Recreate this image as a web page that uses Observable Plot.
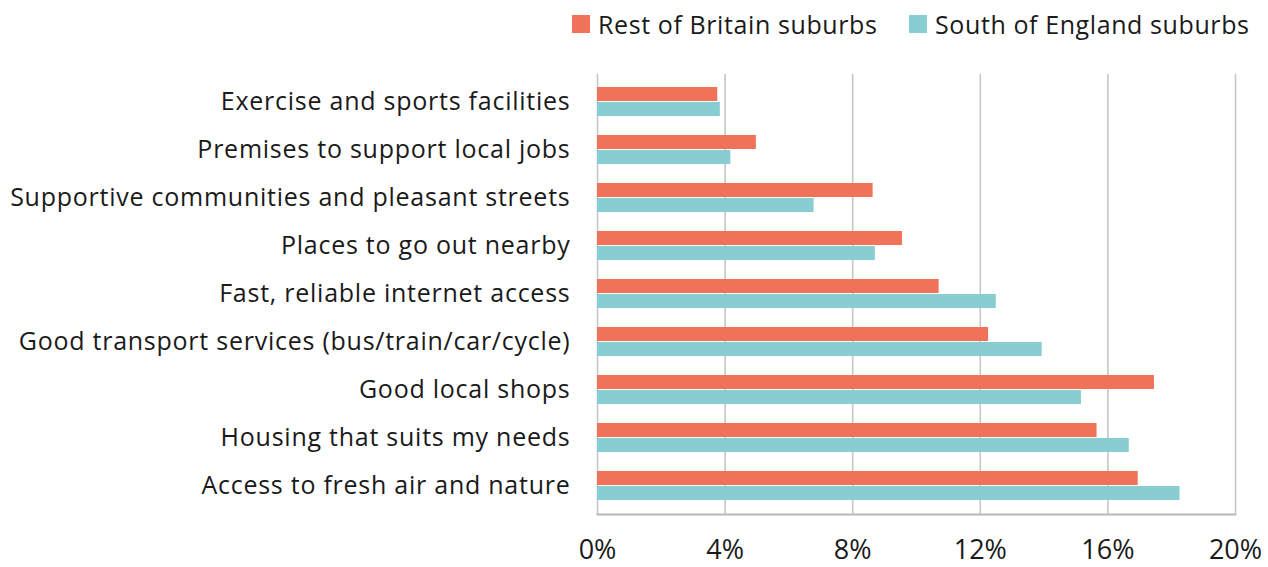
<!DOCTYPE html>
<html>
<head>
<meta charset="utf-8">
<script src="https://cdn.jsdelivr.net/npm/d3@7"></script>
<script src="https://cdn.jsdelivr.net/npm/@observablehq/plot@0.6"></script>
<style>
  html, body { margin: 0; padding: 0; background: #fff; }
  body { width: 1268px; height: 567px; overflow: hidden; font-family: "Open Sans", "Noto Sans", sans-serif; color: #1a1a1a; }
  #legend { height: 40px; position: relative; }
  .item { position: absolute; top: 8px; display: flex; align-items: center; font-size: 25px; line-height: 32px; letter-spacing: 0.6px; }
  .sw { width: 18px; height: 18px; margin-right: 8px; }
</style>
</head>
<body>
<div id="legend"></div>
<div id="chart"></div>
<script>
const categories = [
  "Exercise and sports facilities",
  "Premises to support local jobs",
  "Supportive communities and pleasant streets",
  "Places to go out nearby",
  "Fast, reliable internet access",
  "Good transport services (bus/train/car/cycle)",
  "Good local shops",
  "Housing that suits my needs",
  "Access to fresh air and nature"
];
const seriesNames = ["Rest of Britain suburbs", "South of England suburbs"];
const restOfBritain = [3.77, 4.98, 8.64, 9.56, 10.71, 12.26, 17.46, 15.66, 16.95];
const southOfEngland = [3.85, 4.18, 6.79, 8.71, 12.5, 13.94, 15.17, 16.67, 18.26];
const xTicks = [0, 4, 8, 12, 16, 20];
const colors = ["#EF7259", "#87CDD1"];

const rest = categories.map((c, i) => ({category: c, value: restOfBritain[i]}));
const south = categories.map((c, i) => ({category: c, value: southOfEngland[i]}));

// legend
const legend = document.getElementById("legend");
const lefts = [572, 909];
seriesNames.forEach((s, i) => {
  const el = document.createElement("div");
  el.className = "item";
  el.style.left = lefts[i] + "px";
  el.innerHTML = `<span class="sw" style="background:${colors[i]}"></span><span>${s}</span>`;
  legend.appendChild(el);
});

const chart = Plot.plot({
  width: 1268,
  height: 527,
  marginTop: 34,
  marginBottom: 53,
  marginLeft: 597,
  marginRight: 33,
  style: {fontFamily: "'Open Sans', 'Noto Sans', sans-serif", fontSize: "24px", color: "#1a1a1a", background: "#fff", overflow: "visible"},
  x: {domain: [0, 20], label: null},
  y: {domain: categories, paddingInner: 0.39, paddingOuter: 0.195, label: null},
  marks: [
    Plot.ruleX(xTicks, {stroke: "#c6c6c6", strokeWidth: 1.6}),
    Plot.barX(rest, {y: "category", x: "value", fill: colors[0], insetBottom: 15}),
    Plot.barX(south, {y: "category", x: "value", fill: colors[1], insetTop: 15}),
    Plot.frame({anchor: "bottom", stroke: "#b8b8b8", strokeWidth: 1.8}),
    Plot.axisY({tickSize: 0, tickPadding: 27, fontSize: 25, label: null}),
    Plot.axisX({ticks: xTicks, tickFormat: d => d + "%", tickSize: 0, tickPadding: 25, fontSize: 27, label: null})
  ]
});
d3.select(chart).selectAll('[aria-label="y-axis tick label"] text').style("letter-spacing", "0.75px");
document.getElementById("chart").appendChild(chart);
</script>
</body>
</html>
